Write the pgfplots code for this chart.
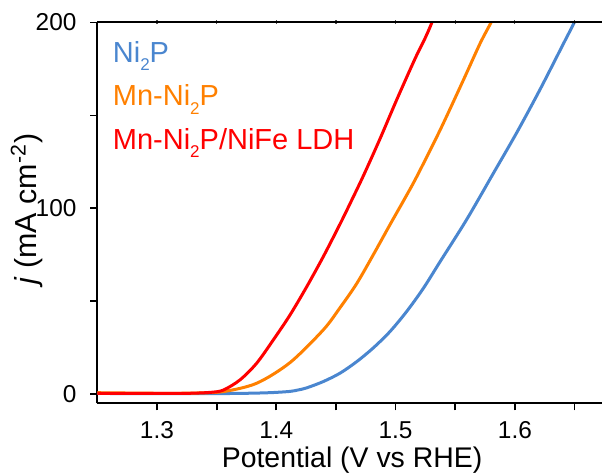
\documentclass[border=0pt]{standalone}
\usepackage{pgfplots}
\pgfplotsset{compat=1.18}
\usepackage{fontspec}
\setmainfont{Liberation Sans}
\definecolor{niblue}{RGB}{74,134,207}
\definecolor{mnorange}{RGB}{255,128,0}
\definecolor{ldhred}{RGB}{255,0,0}
\newcommand{\sub}[1]{\raisebox{-4.3pt}{\fontsize{8.5}{9}\selectfont #1}}
\begin{document}
\begin{tikzpicture}
\begin{axis}[
  name=main, at={(0,0)}, anchor=south west,
  scale only axis, width=252.35pt, height=190.5pt,
  xmin=1.25, xmax=1.673, ymin=-5, ymax=200,
  axis x line*=bottom, axis y line*=left,
  axis line style={line width=1pt, black},
  tick style={line width=0.9pt, black},
  tick align=outside, major tick length=3.5pt, minor tick length=3.5pt,
  xtick={1.3,1.4,1.5,1.6}, xticklabels={1.3,1.4,1.5,1.6},
  minor xtick={1.35,1.45,1.55,1.65},
  ytick={0,100,200}, minor ytick={50,150},
  /pgf/number format/assume math mode=true,
  tick label style={font=\fontsize{12.2}{14}\selectfont},
  xticklabel style={anchor=base, yshift=-14.2pt},
  yticklabel style={anchor=east, xshift=-3.4pt},
  xlabel={Potential (V vs RHE)},
  ylabel={\textit{j} (mA cm\textsuperscript{-2})},
  every axis x label/.style={at={([xshift=1.2pt,yshift=-32.2pt]rel axis cs:0.5,0)}, anchor=base, font=\fontsize{14.2}{16}\selectfont},
  every axis y label/.style={at={([xshift=-30.6pt]rel axis cs:0,0.51)}, rotate=90, anchor=base, font=\fontsize{15.2}{17}\selectfont},
  legend style={at={([xshift=7.6pt,yshift=-8.6pt]rel axis cs:0,1)}, anchor=north west,
    draw=none, fill=none, inner sep=0pt, row sep=7.8pt,
    font=\fontsize{14.5}{16}\selectfont,
    nodes={inner sep=0pt, text height=11pt, text depth=3pt}},
  legend cell align=left,
  legend image code/.code={},
  every axis plot/.append style={line width=1.5pt, line join=round, smooth, tension=0.5},
]
\addplot[niblue] coordinates {
(1.25,0.4) (1.30,0.3) (1.34,0.3) (1.365,0.4) (1.3836,0.6) (1.3975,0.9) (1.4115,1.5) (1.4185,2.3) (1.4255,3.4) (1.4394,6.8)
(1.4534,11.3) (1.4674,17.5) (1.4813,24.9) (1.4953,33.7) (1.5094,44.6)
(1.5233,57.0) (1.5373,71.3) (1.5596,94.0) (1.5819,118.8) (1.6016,140.8)
(1.6211,164.0) (1.6406,188.5) (1.6496,199.8) (1.652,204)
};
\addlegendentry{\textcolor{niblue}{Ni\sub{2}P}}
\addplot[mnorange] coordinates {
(1.25,0.8) (1.30,0.5) (1.33,0.6) (1.3556,1.4) (1.3836,5.9) (1.4115,17.0) (1.4394,34.6)
(1.4534,46.5) (1.4674,59.5) (1.4813,75.0) (1.4953,91.2) (1.5079,105.5)
(1.5177,117.0) (1.5373,142.1) (1.5568,169.0) (1.5708,188.7) (1.5798,199.8) (1.582,204)
};
\addlegendentry{\textcolor{mnorange}{Mn-Ni\sub{2}P}}
\addplot[ldhred] coordinates {
(1.25,0.5) (1.30,0.4) (1.3277,0.5) (1.345,1.0) (1.3556,2.2) (1.3696,7.7) (1.3836,16.7)
(1.3975,29.2) (1.4115,42.6) (1.4255,57.8) (1.4394,74.0) (1.4534,91.5)
(1.4618,102.5) (1.4730,117.5) (1.4870,137.5) (1.5010,158.5) (1.5163,180.5)
(1.5247,191.5) (1.5303,199.8) (1.532,204)
};
\addlegendentry{\textcolor{ldhred}{Mn-Ni\sub{2}P/NiFe LDH}}
\end{axis}
\begin{axis}[
  at={(0,0)}, anchor=south west,
  scale only axis, width=252.35pt, height=190.5pt,
  xmin=1.25, xmax=1.673, ymin=-5, ymax=200,
  axis x line*=top, axis y line=none,
  axis line style={line width=1pt, black},
  tick style={line width=0.6pt, black!70},
  tick align=center, major tick length=2pt,
  xtick={1.3,1.35,1.4,1.45,1.5,1.55,1.6,1.65}, xticklabels={},
]
\end{axis}
\pgfresetboundingbox
\path[use as bounding box] ([xshift=-48.65pt,yshift=-35.75pt]main.south west) rectangle ([yshift=11.25pt]main.north east);
\end{tikzpicture}
\end{document}
